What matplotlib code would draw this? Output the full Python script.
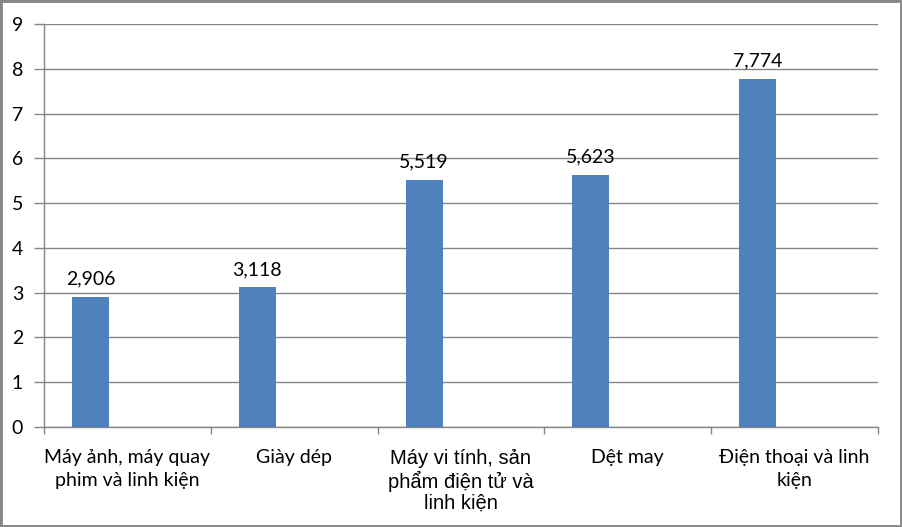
import matplotlib
matplotlib.use("Agg")
import matplotlib.pyplot as plt
from matplotlib.patches import Rectangle

categories = ["Máy ảnh, máy quay\nphim và linh kiện", "Giày dép",
              "Máy vi tính, sản\nphẩm điện tử và\nlinh kiện", "Dệt may",
              "Điện thoại và linh\nkiện"]
values = [2.906, 3.118, 5.519, 5.623, 7.774]
yticks = list(range(0, 10))

FONT = "Lato"
FS = 14
GRID = "#868686"
BAR = "#4F81BD"

fig = plt.figure(figsize=(9.02, 5.27), dpi=100)
ax = fig.add_axes([44/902, 1-427/527, (878-44)/902, (427-24)/527])

x = list(range(len(categories)))
offset = -0.221
width = 0.222
bars = ax.bar([i + offset for i in x], values, width=width, color=BAR, zorder=3)
for b, v in zip(bars, values):
    ax.text(b.get_x() + b.get_width()/2, v + 0.21, f"{v:.3f}".replace(".", ","),
            ha="center", va="bottom", fontsize=FS, family=FONT, color="#000000")

ax.set_xlim(-0.5, len(categories) - 0.5)
ax.set_ylim(0, 9)
ax.set_yticks(yticks)
ax.set_yticklabels([str(t) for t in yticks], family=FONT, fontsize=FS)
ax.yaxis.grid(True, color=GRID, linewidth=1, zorder=0)
ax.set_axisbelow(True)

ax.set_xticks(x)
ax.set_xticklabels(categories, family=FONT, fontsize=FS, linespacing=1.42)
ax.set_xticks([i - 0.5 for i in range(len(categories) + 1)], minor=True)
ax.tick_params(axis="x", which="major", length=0, pad=16)
ax.tick_params(axis="x", which="minor", length=5, color=GRID, width=1)
ax.tick_params(axis="y", length=7, color=GRID, width=1, pad=8)
lbl = ax.get_xticklabels()[2]
lbl.set_family("Liberation Sans")
lbl.set_fontsize(14.5)
lbl.set_linespacing(1.15)

for s in ["top", "right"]:
    ax.spines[s].set_visible(False)
for s in ["left", "bottom"]:
    ax.spines[s].set_color(GRID)
    ax.spines[s].set_linewidth(1)

fig.patches.append(Rectangle((0, 0), 1, 1, transform=fig.transFigure,
                             fill=False, edgecolor="#888888", linewidth=3.5))

fig.savefig("out.png", dpi=100)
